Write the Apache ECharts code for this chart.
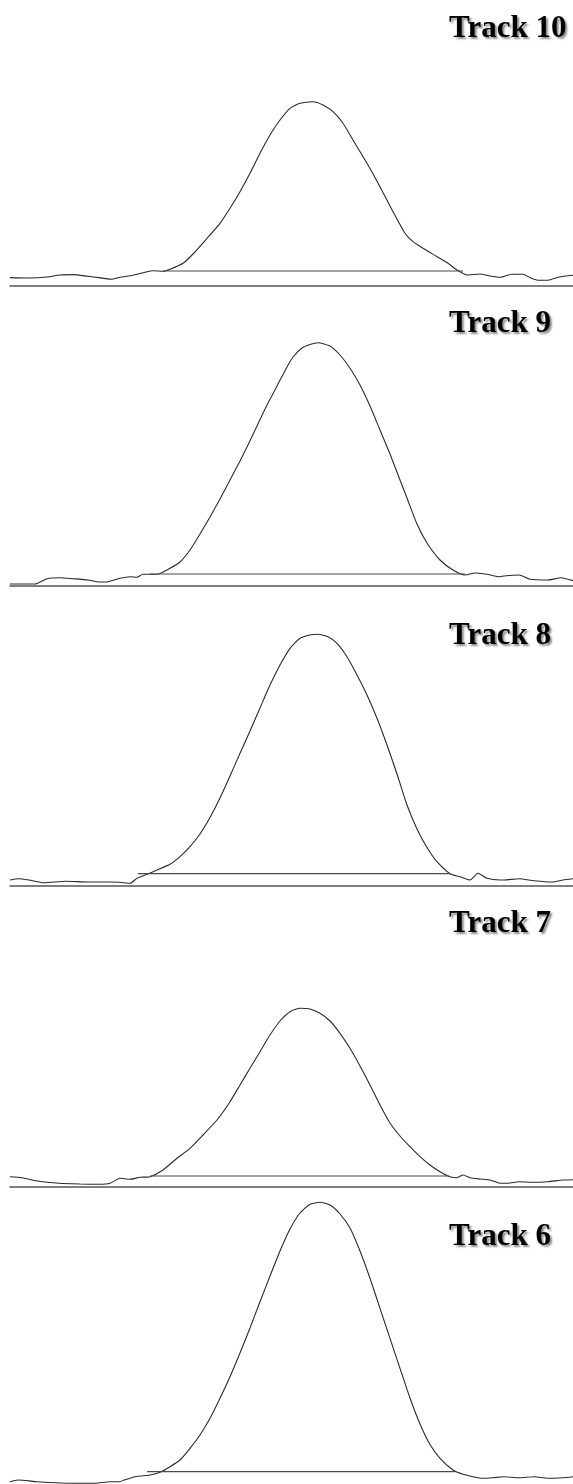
<!DOCTYPE html>
<html>
<head>
<meta charset="utf-8">
<script src="https://cdn.jsdelivr.net/npm/echarts@6/dist/echarts.min.js"></script>
<style>
html,body{margin:0;padding:0;background:#fff;}
#chart{width:573px;height:1484px;}
</style>
</head>
<body>
<div id="chart"></div>
<script>
// Track labels, top to bottom
var trackNames = ['Track 10', 'Track 9', 'Track 8', 'Track 7', 'Track 6'];

// Densitometer scans: [position, intensity]
var track10 = [[10,8.4],[29,8],[47,9],[60,11],[73,11.4],[88,9.7],[99,8.4],[111,6.7],[120,8.7],[133,10.7],[147,14.3],[153,15.3],[163,14.7],[170,16.7],[183,22.7],[193,32],[207,47.7],[220,62.7],[230,77.7],[240,94.3],[250,112.7],[260,132.7],[270,151],[280,166],[290,177.7],[300,182.7],[313,184.3],[323,181],[333,174.3],[343,162.7],[353,146],[367,122.7],[380,99.3],[393,74.3],[405,52.7],[413,44.3],[423,37.7],[437,29.3],[448,22.7],[457,16],[467,11],[480,12],[490,10],[500,8.7],[512,11.7],[523,11.7],[530,8.4],[539,5.7],[548,5.7],[559,9],[573,10.7]];
var track9 = [[10,2],[35,2],[47,7.3],[60,8.3],[73,7.3],[88,6],[99,4],[108,4.3],[120,7.7],[130,9.3],[137,8.7],[143,11.7],[157,11.7],[170,17.7],[180,24],[190,36],[200,52],[210,69],[220,87],[230,106],[240,125],[247,139],[257,160],[267,181],[277,200],[287,219],[293,229],[302,238],[310,241.5],[318,243.3],[330,240],[340,231],[350,217.7],[360,201],[370,180],[380,156],[390,132],[400,106],[407,88],[417,62],[427,43],[440,26],[453,16],[465,11],[475,13],[487,11.7],[500,9.3],[504,10],[519,11],[530,6.7],[548,6],[561,8.3],[573,5.3]];
var track8 = [[10,6],[18,7.3],[29,6],[44,3.3],[66,4.7],[88,4],[110,4],[120,3.7],[130,2.7],[137,7.7],[147,11.7],[157,16],[170,21.7],[180,29.3],[190,39.3],[200,52],[210,68.5],[220,88],[230,110],[240,132.7],[250,155],[260,178],[270,201],[280,221],[290,237.7],[300,247.7],[310,251],[318,251.7],[328,249.3],[337,242.7],[347,229.3],[357,211],[367,191],[377,167.7],[387,141],[397,112],[407,81],[417,57],[427,38.5],[437,24.3],[450,12.3],[460,9.3],[470,6],[478,12.7],[487,7.7],[500,6],[504,6],[519,7.3],[534,5.3],[552,4],[563,6],[573,7.3]];
var track7 = [[10,10.3],[22,9.3],[37,6],[59,3.7],[80,3],[99,2.7],[110,3.7],[120,8.7],[130,7.7],[140,9.7],[150,10.3],[163,17],[177,28.7],[190,38.7],[203,52],[217,67],[230,85.3],[240,102],[250,118.7],[260,135.3],[270,152],[280,166],[290,175.3],[300,178.7],[310,178],[320,173.7],[330,166],[340,153.7],[350,138.7],[360,121],[370,102],[380,82],[390,64],[400,51],[410,40.3],[420,30.3],[430,22],[440,15.3],[450,10.3],[457,9.3],[463,12],[470,9.3],[480,8],[490,7],[500,3.7],[508,3.7],[519,5.3],[534,4.7],[548,5.3],[563,7],[573,7.3]];
var track6 = [[10,2.3],[18,4],[37,2.3],[55,1.3],[73,0.7],[95,0.7],[110,2.3],[120,2.3],[124,4],[130,5.7],[135,7.3],[140,8],[150,9],[160,11.7],[170,17.3],[180,24],[190,35.7],[200,49],[210,65.7],[220,85.7],[230,107.3],[240,131],[250,156],[260,182.3],[270,208],[280,233],[290,255],[300,271],[310,279.7],[320,281.7],[330,279],[340,270],[350,256],[360,233],[370,205.7],[380,175.7],[390,145.7],[400,115.7],[410,86],[420,60],[430,39.5],[440,25.7],[453,14],[463,9.7],[473,7.3],[483,5.7],[493,6.3],[504,7.3],[519,6.3],[534,7.3],[548,5.7],[563,6.3],[573,7.3]];

// Peak baselines: [start, end, level]
var baseline10 = [163, 463, 15];
var baseline9 = [150, 465, 12];
var baseline8 = [138, 451, 12.3];
var baseline7 = [150, 449, 11];
var baseline6 = [147, 455, 12.3];

var tracks = [track10, track9, track8, track7, track6];
var baselines = [baseline10, baseline9, baseline8, baseline7, baseline6];

// Layout (pixels)
var gridTops = [6, 306, 606, 907, 1184];
var gridBottoms = [1198, 898, 598, 297, 0];
var yMax = [280, 280, 280, 280, 300];
var titleTops = [13, 308, 620, 908, 1221];
var showAxisLine = [true, true, true, true, false];

var chart = echarts.init(document.getElementById('chart'), null, {renderer: 'canvas'});
var grids = [], xAxes = [], yAxes = [], series = [], titles = [];
for (var i = 0; i < tracks.length; i++) {
  grids.push({left: 10, right: 0, top: gridTops[i], bottom: gridBottoms[i], containLabel: false});
  xAxes.push({
    type: 'value', gridIndex: i, min: 10, max: 573,
    axisLine: {show: showAxisLine[i], onZero: false, lineStyle: {color: '#555', width: 1.5}},
    axisTick: {show: false}, axisLabel: {show: false}, splitLine: {show: false}
  });
  yAxes.push({
    type: 'value', gridIndex: i, min: 0, max: yMax[i], show: false,
    splitLine: {show: false}
  });
  series.push({
    type: 'line', xAxisIndex: i, yAxisIndex: i, data: tracks[i],
    showSymbol: false, symbol: 'none', smooth: 0.2, clip: false,
    lineStyle: {color: '#2a2a2a', width: 1.1}
  });
  var b = baselines[i];
  series.push({
    type: 'line', xAxisIndex: i, yAxisIndex: i, data: [[b[0], b[2]], [b[1], b[2]]],
    showSymbol: false, symbol: 'none', clip: false,
    lineStyle: {color: '#4a4a4a', width: 1.2}
  });
  titles.push({
    text: trackNames[i], left: 449, top: titleTops[i], padding: 0,
    textStyle: {
      fontFamily: '"Liberation Serif", "Times New Roman", serif', fontWeight: 'bold',
      fontSize: 31, color: '#000',
      textShadowColor: 'rgba(0,0,0,0.45)', textShadowBlur: 2,
      textShadowOffsetX: 2, textShadowOffsetY: 2
    }
  });
}

chart.setOption({
  animation: false,
  backgroundColor: '#fff',
  title: titles,
  grid: grids,
  xAxis: xAxes,
  yAxis: yAxes,
  series: series
});
</script>
</body>
</html>
